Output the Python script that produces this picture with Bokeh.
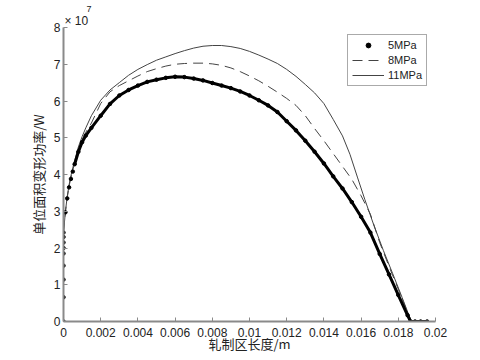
from bokeh.plotting import figure
from bokeh.models import Range1d, FixedTicker, Legend, LegendItem, Title
from bokeh.embed import file_html
from bokeh.resources import INLINE

# Data (y in units of 1e7 W)
x5 = [0, 0, 0, 0, 0, 0, 0, 0, 0,
      0.0001, 0.0002, 0.0003, 0.0004, 0.0005, 0.0006, 0.0008, 0.001, 0.0012, 0.0015,
      0.002, 0.0025, 0.003, 0.0035, 0.004, 0.0045, 0.005, 0.0055, 0.006, 0.0065,
      0.007, 0.0075, 0.008, 0.0085, 0.009, 0.0095, 0.01, 0.0105, 0.011, 0.0115,
      0.012, 0.0125, 0.013, 0.0135, 0.014, 0.0145, 0.015, 0.0155, 0.016, 0.0165,
      0.017, 0.0175, 0.018, 0.0185, 0.01866, 0.0189, 0.0192, 0.01955]
y5 = [0, 0.66, 1.14, 1.52, 1.85, 2.0, 2.15, 2.3, 2.42,
      2.97, 3.35, 3.65, 3.88, 4.08, 4.28, 4.62, 4.88, 5.06, 5.27,
      5.6, 5.92, 6.15, 6.3, 6.42, 6.52, 6.58, 6.63, 6.66, 6.65,
      6.61, 6.56, 6.49, 6.42, 6.35, 6.26, 6.15, 6.02, 5.88, 5.7,
      5.45, 5.2, 4.92, 4.62, 4.3, 3.95, 3.62, 3.25, 2.85, 2.42,
      1.84, 1.28, 0.72, 0.17, 0, 0, 0, 0]

x8 = [0, 0.0001, 0.0002, 0.0003, 0.0004, 0.0005, 0.0006, 0.0008, 0.001, 0.0012, 0.0015,
      0.002, 0.0025, 0.003, 0.0035, 0.004, 0.0045, 0.005, 0.0055, 0.006, 0.0065,
      0.007, 0.0075, 0.008, 0.0085, 0.009, 0.0095, 0.01, 0.0105, 0.011, 0.0115,
      0.012, 0.0125, 0.013, 0.0135, 0.014, 0.0145, 0.015, 0.0155, 0.016, 0.0165,
      0.017, 0.0175, 0.018, 0.0185, 0.0187]
y8 = [2.42, 2.97, 3.37, 3.68, 3.92, 4.12, 4.32, 4.68, 4.95, 5.15, 5.4,
      5.93, 6.25, 6.42, 6.55, 6.68, 6.8, 6.88, 6.95, 7.0, 7.02,
      7.03, 7.03, 7.01, 6.97, 6.9, 6.8, 6.68, 6.55, 6.4, 6.24,
      6.07, 5.88, 5.6, 5.25, 4.92, 4.57, 4.22, 3.87, 3.42, 2.92,
      2.15, 1.5, 0.88, 0.25, 0]

x11 = [0, 0.0001, 0.0002, 0.0003, 0.0004, 0.0005, 0.0006, 0.0008, 0.001, 0.0012, 0.0015,
       0.002, 0.0025, 0.003, 0.0035, 0.004, 0.0045, 0.005, 0.0055, 0.006, 0.0065,
       0.007, 0.0075, 0.008, 0.0085, 0.009, 0.0095, 0.01, 0.0105, 0.011, 0.0115,
       0.012, 0.0125, 0.013, 0.0135, 0.014, 0.0145, 0.015, 0.0154, 0.0158, 0.0162,
       0.0167, 0.0172, 0.0177, 0.0182, 0.0187]
y11 = [2.42, 2.98, 3.4, 3.72, 3.97, 4.18, 4.38, 4.75, 5.03, 5.27, 5.6,
       6.02, 6.3, 6.5, 6.7, 6.86, 6.99, 7.11, 7.2, 7.29, 7.37,
       7.44, 7.49, 7.51, 7.51, 7.48, 7.43, 7.35, 7.25, 7.14, 7.02,
       6.86, 6.67, 6.45, 6.22, 5.93, 5.5, 5.05, 4.55, 3.93, 3.32,
       2.6, 1.93, 1.3, 0.66, 0]

x_ticks = [0, 0.002, 0.004, 0.006, 0.008, 0.01, 0.012, 0.014, 0.016, 0.018, 0.02]
x_tick_labels = ["0", "0.002", "0.004", "0.006", "0.008", "0.01", "0.012", "0.014", "0.016", "0.018", "0.02"]
y_ticks = [0, 1, 2, 3, 4, 5, 6, 7, 8]
series_names = ["5MPa", "8MPa", "11MPa"]

FONT = "Liberation Sans, Arial, Noto Sans CJK SC"
CJK = "Noto Sans CJK SC, Liberation Sans"
TXT = "#222222"
AXC = "#8a8a8a"

p = figure(frame_width=372, frame_height=294, output_backend="svg", toolbar_location=None,
           x_range=Range1d(0, 0.02), y_range=Range1d(0, 8),
           min_border_left=63, min_border_right=30, min_border_top=27, min_border_bottom=28)
p.outline_line_color = None
p.xgrid.visible = False
p.ygrid.visible = False
p.background_fill_color = "white"
p.border_fill_color = "white"

# 11MPa solid
r11 = p.line(x11, y11, line_color="#444444", line_width=1)
# 8MPa dashed
r8 = p.line(x8, y8, line_color="#444444", line_width=1, line_dash="10 6")
# 5MPa dense dots
i0 = 14
p.line(x5[i0:], y5[i0:], line_color="black", line_width=3)
r5 = p.scatter(x5, y5, marker="circle", size=3.5, fill_color="black", line_color="black")

for ax in (p.xaxis[0], p.yaxis[0]):
    ax.axis_line_color = AXC
    ax.axis_line_width = 2
    ax.major_tick_line_color = AXC
    ax.major_tick_in = 4
    ax.major_tick_out = 0
    ax.minor_tick_line_color = None
    ax.major_label_text_font = FONT
    ax.major_label_text_font_size = "12px"
    ax.major_label_text_color = TXT
    ax.axis_label_text_font = CJK
    ax.axis_label_text_font_size = "13px"
    ax.axis_label_text_font_style = "normal"
    ax.axis_label_text_color = TXT

p.xaxis.ticker = FixedTicker(ticks=x_ticks)
p.xaxis.major_label_overrides = {t: s for t, s in zip(x_ticks, x_tick_labels)}
p.yaxis.ticker = FixedTicker(ticks=y_ticks)
p.xaxis.axis_label = "轧制区长度/m"
p.yaxis.axis_label = "单位面积变形功率/W"
p.xaxis.major_label_standoff = 6
p.yaxis.major_label_standoff = 3
p.xaxis.axis_label_standoff = -6
p.yaxis.axis_label_standoff = 3

# exponent marker above the y axis
p.add_layout(Title(text="× 10", align="left", offset=1, standoff=0,
                   text_font=FONT, text_font_size="12px", text_color=TXT,
                   text_font_style="normal"), "above")
p.add_layout(Title(text="7", align="left", offset=23, standoff=0,
                   text_font=FONT, text_font_size="9px", text_color=TXT,
                   text_font_style="normal"), "above")

legend = Legend(items=[LegendItem(label=series_names[0], renderers=[r5]),
                       LegendItem(label=series_names[1], renderers=[r8]),
                       LegendItem(label=series_names[2], renderers=[r11])],
                location=(284, 235))
legend.label_text_font = FONT
legend.label_text_font_size = "11px"
legend.label_text_color = TXT
legend.border_line_color = "#555555"
legend.border_line_width = 1
legend.background_fill_alpha = 1
legend.glyph_width = 32
legend.glyph_height = 12
legend.label_height = 12
legend.spacing = 3
legend.padding = 4
legend.margin = 0
legend.label_standoff = 4
p.add_layout(legend, "center")

open("out.html", "w").write(file_html(p, INLINE))
